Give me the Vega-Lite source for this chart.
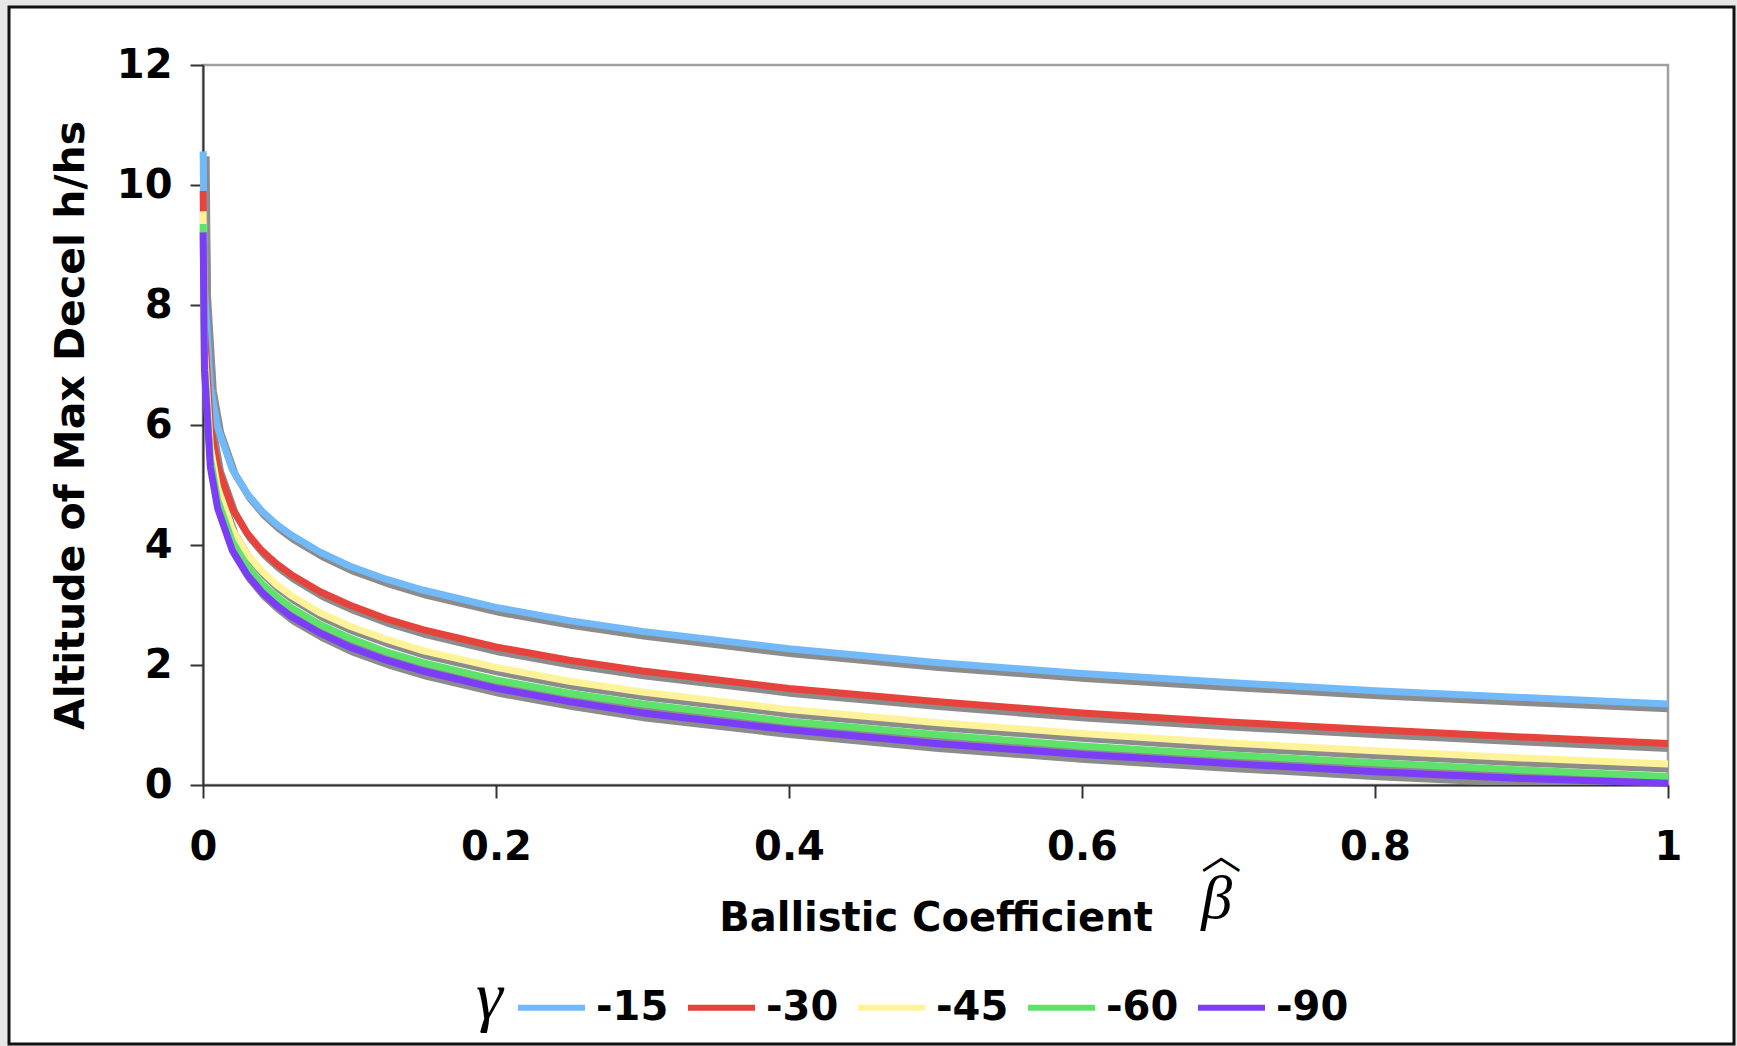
{
  "$schema": "https://vega.github.io/schema/vega-lite/v6.json",
  "width": 1465,
  "height": 720,
  "autosize": {"type": "none"},
  "padding": {"left": 203, "top": 65, "right": 69, "bottom": 261},
  "background": "#ffffff",
  "config": {
    "font": "DejaVu Sans",
    "view": {"stroke": "#a0a0a0", "strokeWidth": 2.5},
    "axis": {"zindex": 1, "grid": false}
  },
  "datasets": {
    "curves": [
      {"b": 0.0001, "-15": 10.56, "-30": 9.90, "-45": 9.56, "-60": 9.35, "-90": 9.21},
      {"b": 0.001, "-15": 8.26, "-30": 7.60, "-45": 7.25, "-60": 7.05, "-90": 6.91},
      {"b": 0.005, "-15": 6.65, "-30": 5.99, "-45": 5.64, "-60": 5.44, "-90": 5.30},
      {"b": 0.01, "-15": 5.96, "-30": 5.30, "-45": 4.95, "-60": 4.75, "-90": 4.61},
      {"b": 0.02, "-15": 5.26, "-30": 4.61, "-45": 4.26, "-60": 4.06, "-90": 3.91},
      {"b": 0.03, "-15": 4.86, "-30": 4.20, "-45": 3.85, "-60": 3.65, "-90": 3.51},
      {"b": 0.04, "-15": 4.57, "-30": 3.91, "-45": 3.57, "-60": 3.36, "-90": 3.22},
      {"b": 0.05, "-15": 4.35, "-30": 3.69, "-45": 3.34, "-60": 3.14, "-90": 3.00},
      {"b": 0.06, "-15": 4.17, "-30": 3.51, "-45": 3.16, "-60": 2.96, "-90": 2.81},
      {"b": 0.08, "-15": 3.88, "-30": 3.22, "-45": 2.87, "-60": 2.67, "-90": 2.53},
      {"b": 0.1, "-15": 3.65, "-30": 3.00, "-45": 2.65, "-60": 2.45, "-90": 2.30},
      {"b": 0.125, "-15": 3.43, "-30": 2.77, "-45": 2.43, "-60": 2.22, "-90": 2.08},
      {"b": 0.15, "-15": 3.25, "-30": 2.59, "-45": 2.24, "-60": 2.04, "-90": 1.90},
      {"b": 0.2, "-15": 2.96, "-30": 2.30, "-45": 1.96, "-60": 1.75, "-90": 1.61},
      {"b": 0.25, "-15": 2.74, "-30": 2.08, "-45": 1.73, "-60": 1.53, "-90": 1.39},
      {"b": 0.3, "-15": 2.56, "-30": 1.90, "-45": 1.55, "-60": 1.35, "-90": 1.20},
      {"b": 0.4, "-15": 2.27, "-30": 1.61, "-45": 1.26, "-60": 1.06, "-90": 0.92},
      {"b": 0.5, "-15": 2.04, "-30": 1.39, "-45": 1.04, "-60": 0.84, "-90": 0.69},
      {"b": 0.6, "-15": 1.86, "-30": 1.20, "-45": 0.86, "-60": 0.65, "-90": 0.51},
      {"b": 0.7, "-15": 1.71, "-30": 1.05, "-45": 0.70, "-60": 0.50, "-90": 0.36},
      {"b": 0.8, "-15": 1.57, "-30": 0.92, "-45": 0.57, "-60": 0.37, "-90": 0.22},
      {"b": 0.9, "-15": 1.46, "-30": 0.80, "-45": 0.45, "-60": 0.25, "-90": 0.11},
      {"b": 1.0, "-15": 1.35, "-30": 0.69, "-45": 0.35, "-60": 0.14, "-90": 0.03}
    ]
  },
  "layer": [
    {
      "data": {"name": "curves"},
      "transform": [{"fold": ["-15", "-30", "-45", "-60", "-90"], "as": ["g", "h"]}],
      "mark": {"type": "line", "color": "#8c8c8c", "strokeWidth": 7, "xOffset": 3, "yOffset": 5, "clip": true},
      "encoding": {
        "x": {
          "field": "b", "type": "quantitative",
          "scale": {"domain": [0, 1], "nice": false, "zero": false},
          "axis": {
            "title": "Ballistic Coefficient",
            "values": [0, 0.2, 0.4, 0.6, 0.8, 1],
            "format": "~g",
            "labelFlush": false,
            "labelOverlap": false,
            "labelFont": "DejaVu Sans",
            "labelFontSize": 40,
            "labelFontWeight": "bold",
            "labelColor": "#000000",
            "labelPadding": 29,
            "tickSize": 13,
            "tickColor": "#333333",
            "tickWidth": 2,
            "domainColor": "#333333",
            "domainWidth": 2,
            "titleFont": "DejaVu Sans",
            "titleFontSize": 40,
            "titleFontWeight": "bold",
            "titleColor": "#000000",
            "titlePadding": 31
          }
        },
        "y": {
          "field": "h", "type": "quantitative",
          "scale": {"domain": [0, 12], "nice": false},
          "axis": {
            "title": "Altitude of Max Decel h/hs",
            "values": [0, 2, 4, 6, 8, 10, 12],
            "format": "~g",
            "labelFont": "DejaVu Sans",
            "labelFontSize": 40,
            "labelFontWeight": "bold",
            "labelColor": "#000000",
            "labelPadding": 18,
            "tickSize": 13,
            "tickColor": "#333333",
            "tickWidth": 2,
            "domainColor": "#333333",
            "domainWidth": 2,
            "titleFont": "DejaVu Sans",
            "titleFontSize": 41,
            "titleFontWeight": "bold",
            "titleColor": "#000000",
            "titlePadding": 24
          }
        },
        "detail": {"field": "g", "type": "nominal"}
      }
    },
    {
      "data": {"name": "curves"},
      "transform": [{"fold": ["-15", "-30", "-45", "-60", "-90"], "as": ["g", "h"]}],
      "mark": {"type": "line", "strokeWidth": 7, "clip": false},
      "encoding": {
        "x": {"field": "b", "type": "quantitative", "scale": {"domain": [0, 1], "nice": false, "zero": false}},
        "y": {"field": "h", "type": "quantitative", "scale": {"domain": [0, 12], "nice": false}},
        "color": {
          "field": "g", "type": "nominal",
          "scale": {
            "domain": ["-15", "-30", "-45", "-60", "-90"],
            "range": ["#72b9fa", "#e5433c", "#fff39a", "#5de36a", "#7b3df8"]
          },
          "legend": {
            "title": "γ",
            "orient": "none",
            "legendX": 273,
            "legendY": 906,
            "direction": "horizontal",
            "columns": 5,
            "symbolType": "stroke",
            "symbolSize": 4489,
            "symbolStrokeWidth": 6,
            "symbolOpacity": 1,
            "labelFont": "DejaVu Sans",
            "labelFontSize": 40,
            "labelFontWeight": "bold",
            "labelColor": "#000000",
            "labelOffset": 8,
            "columnPadding": 7,
            "titleOrient": "left",
            "titleFont": "Liberation Serif",
            "titleFontStyle": "italic",
            "titleFontWeight": "normal",
            "titleFontSize": 68,
            "titleColor": "#000000",
            "titlePadding": 12
          }
        }
      }
    },
    {
      "data": {"values": [{}]},
      "mark": {"type": "text", "text": "β", "font": "Liberation Serif", "fontStyle": "italic", "fontSize": 62, "color": "#000000", "baseline": "middle", "align": "center", "clip": false},
      "encoding": {
        "x": {"datum": 0.692, "type": "quantitative", "scale": {"domain": [0, 1], "nice": false, "zero": false}},
        "y": {"datum": -1.9, "type": "quantitative", "scale": {"domain": [0, 12], "nice": false}}
      }
    },
    {
      "data": {"values": [{}]},
      "mark": {"type": "text", "text": "︿", "font": "Noto Sans CJK SC", "fontSize": 40, "color": "#000000", "baseline": "middle", "align": "center", "clip": false},
      "encoding": {
        "x": {"datum": 0.695, "type": "quantitative", "scale": {"domain": [0, 1], "nice": false, "zero": false}},
        "y": {"datum": -1.2, "type": "quantitative", "scale": {"domain": [0, 12], "nice": false}}
      }
    },
    {
      "data": {"values": [{}]},
      "mark": {"type": "rect", "fill": "transparent", "stroke": "#e6e6e6", "strokeWidth": 14, "clip": false},
      "encoding": {
        "x": {"datum": -0.13788, "type": "quantitative", "scale": {"domain": [0, 1], "nice": false, "zero": false}},
        "x2": {"datum": 1.05051},
        "y": {"datum": 13.1, "type": "quantitative", "scale": {"domain": [0, 12], "nice": false}},
        "y2": {"datum": -4.45}
      }
    },
    {
      "data": {"values": [{}]},
      "mark": {"type": "rect", "fill": "transparent", "stroke": "#111111", "strokeWidth": 3, "clip": false},
      "encoding": {
        "x": {"datum": -0.13242, "type": "quantitative", "scale": {"domain": [0, 1], "nice": false, "zero": false}},
        "x2": {"datum": 1.04505},
        "y": {"datum": 12.9667, "type": "quantitative", "scale": {"domain": [0, 12], "nice": false}},
        "y2": {"datum": -4.3167}
      }
    }
  ]
}
